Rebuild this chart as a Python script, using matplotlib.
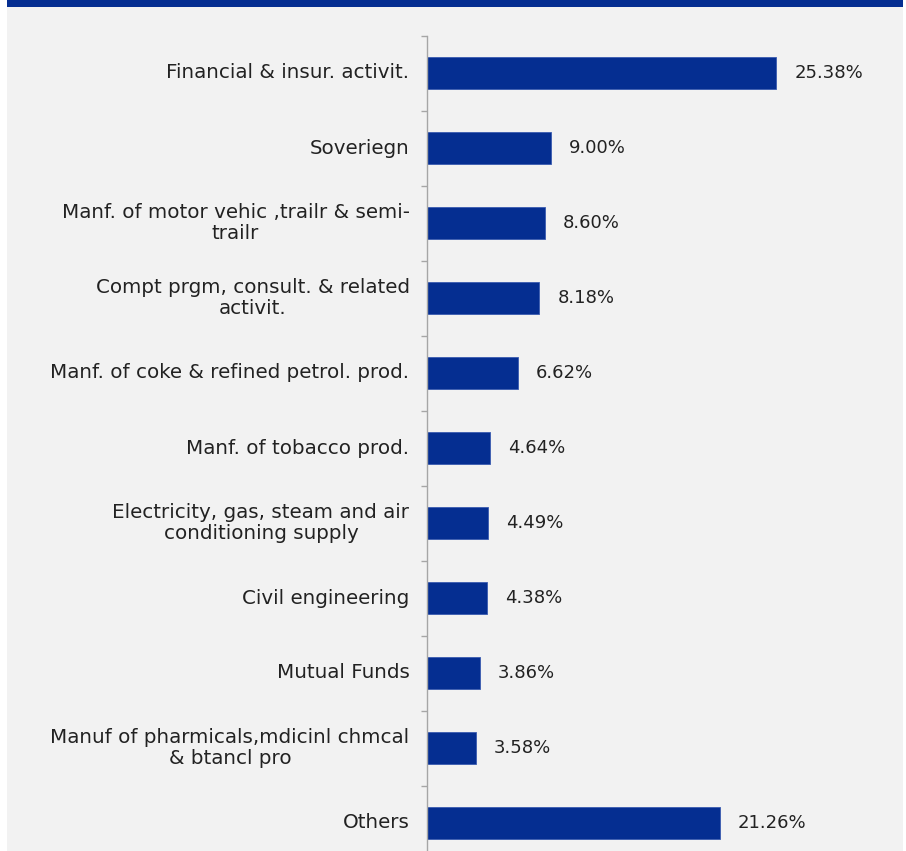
import matplotlib
matplotlib.use("Agg")
import matplotlib.pyplot as plt
from matplotlib.patches import Rectangle

categories = [
    "Financial & insur. activit.",
    "Soveriegn",
    "Manf. of motor vehic ,trailr & semi-\ntrailr",
    "Compt prgm, consult. & related\nactivit.",
    "Manf. of coke & refined petrol. prod.",
    "Manf. of tobacco prod.",
    "Electricity, gas, steam and air\nconditioning supply",
    "Civil engineering",
    "Mutual Funds",
    "Manuf of pharmicals,mdicinl chmcal\n& btancl pro",
    "Others",
]
values = [25.38, 9.00, 8.60, 8.18, 6.62, 4.64, 4.49, 4.38, 3.86, 3.58, 21.26]
value_labels = ["25.38%", "9.00%", "8.60%", "8.18%", "6.62%", "4.64%",
                "4.49%", "4.38%", "3.86%", "3.58%", "21.26%"]

W, H = 906, 851
BLUE = "#052e91"
BG = "#f2f2f2"
TXT = "#222222"
FONT = "DejaVu Sans"
FS_CAT = 14.3
FS_VAL = 13.0

fig = plt.figure(figsize=(W / 100, H / 100), dpi=100, facecolor="white")

# background panel and header band
fig.patches.append(Rectangle((7 / W, 0), (903 - 7) / W, (H - 7) / H,
                             transform=fig.transFigure, facecolor=BG,
                             edgecolor="none", zorder=-10))
fig.patches.append(Rectangle((7 / W, (H - 7) / H), (903 - 7) / W, 7 / H,
                             transform=fig.transFigure, facecolor=BLUE,
                             edgecolor="none", zorder=-10))

px_per_unit = 13.79
x0 = 426.5
xmax = 34.0
top_px, bottom_px = 35.5, 860.5
ax = fig.add_axes([x0 / W, 1 - bottom_px / H, xmax * px_per_unit / W,
                   (bottom_px - top_px) / H])
ax.set_zorder(5)
ax.set_facecolor("none")

ypos = list(range(len(categories)))
ax.barh(ypos, values, height=0.43, color=BLUE, edgecolor="#3a5bb0",
        linewidth=0.6, zorder=2)
ax.set_xlim(0, xmax)
ax.set_ylim(len(categories) - 0.5, -0.5)

for y, v, lab in zip(ypos, values, value_labels):
    ax.annotate(lab, (v, y), xytext=(18, 0), textcoords="offset pixels",
                ha="left", va="center", fontsize=FS_VAL, family=FONT, color=TXT)

for y, c in zip(ypos, categories):
    ax.annotate(c, (0, y), xytext=(-17, 0), textcoords="offset pixels",
                ha="right", va="center", multialignment="center",
                fontsize=FS_CAT, family=FONT, color=TXT, linespacing=1.1,
                annotation_clip=False)

ax.set_yticks([i - 0.5 for i in range(len(categories) + 1)])
ax.set_yticklabels([])
ax.tick_params(axis="y", direction="out", length=4, width=1, color="#a6a6a6")
ax.set_xticks([])
for s in ["top", "right", "bottom"]:
    ax.spines[s].set_visible(False)
ax.spines["left"].set_color("#a6a6a6")
ax.spines["left"].set_linewidth(1)

fig.savefig("out.png", dpi=100, facecolor="white")
